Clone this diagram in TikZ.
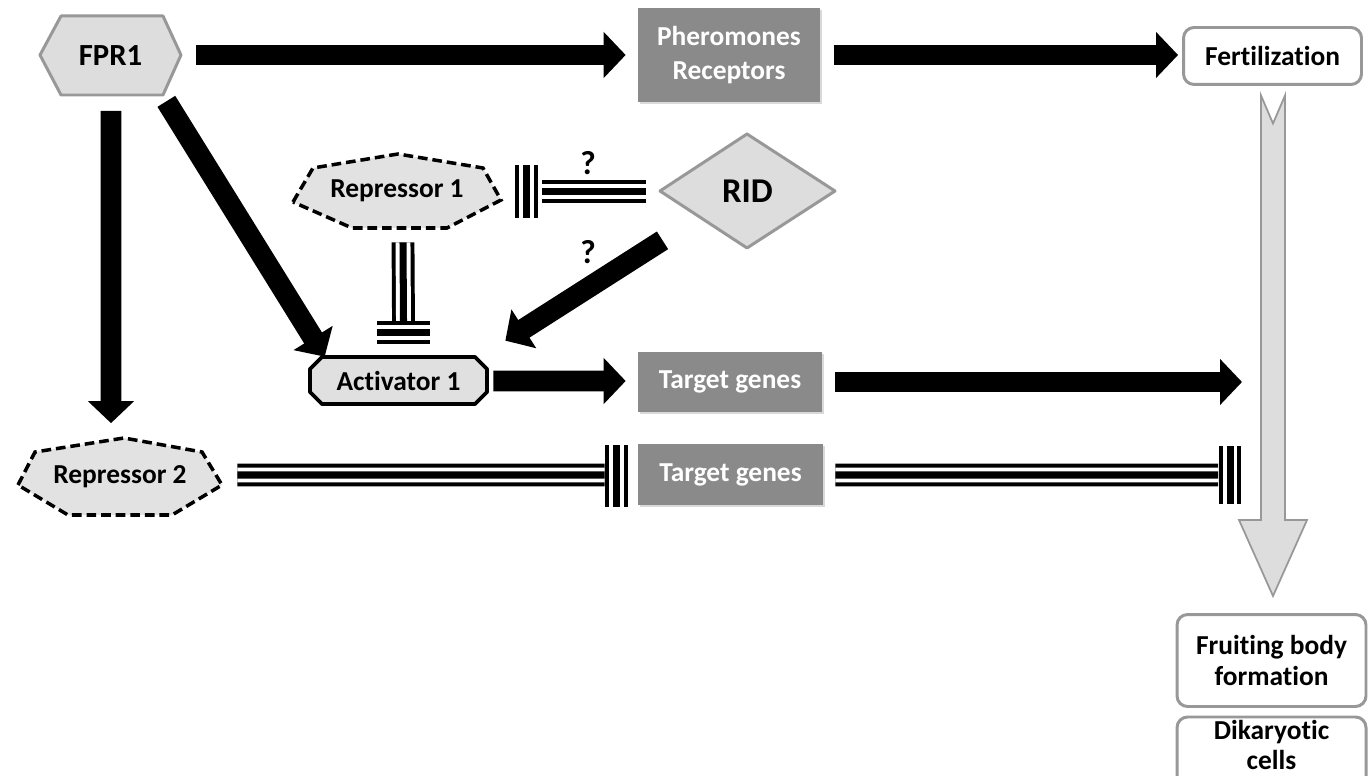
\documentclass[tikz,border=0pt]{standalone}
\usepackage{fontspec}
\setmainfont{Carlito}[Ligatures=NoCommon]
\usetikzlibrary{arrows.meta,calc,shadows}
\definecolor{boxgray}{RGB}{138,138,138}
\definecolor{lightfill}{RGB}{221,221,221}
\definecolor{bordergray}{RGB}{152,152,152}
\definecolor{repfill}{RGB}{226,226,226}
\definecolor{actfill}{RGB}{224,224,224}
\begin{document}
\begin{tikzpicture}[x=0.02cm,y=-0.02cm,
  every node/.style={font=\fontsize{15.6}{16.6}\selectfont\bfseries, inner sep=0pt, align=center},
  graybox/.style={fill=boxgray, text=white, drop shadow={shadow xshift=1.2pt, shadow yshift=-1.2pt, opacity=0.3}},
  roundbox/.style={draw=bordergray, line width=1.7pt, rounded corners=6pt, fill=white},
  hexshape/.style={fill=lightfill, draw=bordergray, line width=1.7pt, line join=round},
  repshape/.style={fill=repfill, draw=black, line width=2pt, dash pattern=on 5.5pt off 2.8pt},
  actshape/.style={fill=actfill, draw=black, line width=2.2pt, line join=round},
  bigarrow/.style={line width=11.9pt, -{Triangle[width=25.5pt,length=12.5pt]}},
  tripleline/.style={line width=13pt, draw=black, postaction={draw=white, line width=8.5pt}, postaction={draw=black, line width=4pt}},
  bigflow/.style={fill=lightfill, draw=bordergray, line width=1pt, line join=miter},
  qmark/.style={font=\fontsize{19}{20}\selectfont\bfseries}
]
\useasboundingbox (0,0) rectangle (1372,776);

% ---------- shapes ----------
\draw[hexshape] (40,55) -- (61,16) -- (163,16) -- (181,55) -- (163,95) -- (61,95) -- cycle;
\draw[hexshape] (660,191) -- (747,134) -- (835,191) -- (747,248) -- cycle;
\draw[repshape] (293,202) -- (313,168) -- (398,154) -- (483,168) -- (501,200) -- (447,228) -- (352,228) -- cycle;
\draw[repshape] (18,485) -- (35,452) -- (124,438) -- (202,452) -- (222,485) -- (172,515) -- (68,515) -- cycle;
\draw[actshape] (310,369) -- (322,357) -- (475,357) -- (487,369) -- (487,392) -- (475,404) -- (322,404) -- (310,392) -- cycle;
\draw[roundbox] (1177,717) rectangle (1366,800);

% ---------- nodes ----------
\node[minimum width=2.82cm, minimum height=1.6cm, font=\fontsize{17.5}{20}\selectfont\bfseries] (fpr) at (110.5,55.5) {FPR1};
\node[graybox, minimum width=3.64cm, minimum height=1.88cm] (pher) at (729,55) {Pheromones\\[2.5pt]Receptors};
\node[roundbox, minimum width=3.56cm, minimum height=1.14cm] (fert) at (1272.5,56) {Fertilization};
\node[minimum width=4.16cm, minimum height=1.48cm] (rep1) at (397,191) {Repressor 1};
\node[minimum width=3.5cm, minimum height=2.28cm, font=\fontsize{19.8}{22}\selectfont\bfseries] (rid) at (747.5,191) {RID};
\node[minimum width=3.54cm, minimum height=0.94cm] (act) at (398.5,380.5) {Activator 1};
\node[graybox, minimum width=3.68cm, minimum height=1.2cm] (tg1) at (730,382) {Target genes};
\node[minimum width=4.08cm, minimum height=1.54cm] (rep2) at (120,477) {Repressor 2};
\node[graybox, minimum width=3.7cm, minimum height=1.22cm] (tg2) at (730.5,474.5) {Target genes};
\node[roundbox, minimum width=3.78cm, minimum height=1.84cm] (fbf) at (1271.5,660.5) {Fruiting body\\[0.5pt]formation};
\node (dik) at (1271.5,745) {Dikaryotic\\cells};

\coordinate (t1end) at (1242,382);
\coordinate (t2end) at (1218,475);

% ---------- big gray flow arrow ----------
\coordinate (gtop) at ($(fert.south)+(0.5,9.5)$);
\coordinate (gtip) at ($(fbf.north)+(1.5,-17)$);
\draw[bigflow] ($(gtop)+(-12,0)$) -- ($(gtop)+(0,28)$) -- ($(gtop)+(12,0)$)
  -- ($(gtip)+(12,-76)$) -- ($(gtip)+(34,-76)$) -- (gtip)
  -- ($(gtip)+(-34,-76)$) -- ($(gtip)+(-12,-76)$) -- cycle;

% ---------- activation arrows ----------
\draw[bigarrow] ($(fpr.east)+(15,-0.5)$) -- ($(pher.west)+(-12,0)$);
\draw[bigarrow] ($(pher.east)+(14,0)$) -- ($(fert.west)+(-4,-1)$);
\draw[bigarrow] ($(fpr.south)+(0.5,15)$) -- ($(rep2.north)+(-9,-15)$);
\draw[bigarrow] ($(fpr.south east)+(-15,5.5)$) -- ($(act.north west)+(15,0)$);
\draw[bigarrow] ($(rid.south)+(-85,-8)$) -- ($(act.north east)+(18,-16)$);
\draw[bigarrow] ($(act.east)+(6,0.5)$) -- ($(tg1.west)+(-12,-1)$);
\draw[bigarrow] ($(tg1.east)+(13,0)$) -- (t1end);

% ---------- inhibition connectors ----------
\draw[tripleline] ($(rid.west)+(-14,0.5)$) -- ($(rep1.east)+(41,0.5)$);
\draw[tripleline] ($(rep1.east)+(25.5,-26)$) -- ($(rep1.east)+(25.5,27)$);
\draw[tripleline] ($(rep1.south)+(6,14)$) -- ($(act.north)+(5,-35)$);
\draw[tripleline] ($(act.north)+(-21.5,-24.5)$) -- ($(act.north)+(31.5,-24.5)$);
\draw[tripleline] ($(rep2.east)+(15,-2)$) -- ($(tg2.west)+(-33,0.5)$);
\draw[tripleline] ($(tg2.west)+(-21.5,-29)$) -- ($(tg2.west)+(-21.5,32)$);
\draw[tripleline] ($(tg2.east)+(12,0.5)$) -- (t2end);
\draw[tripleline] ($(t2end)+(12,-29)$) -- ($(t2end)+(12,29)$);

% ---------- labels ----------
\node[qmark] (q1) at (588,163) {?};
\node[qmark] (q2) at (588,252) {?};
\end{tikzpicture}
\end{document}
